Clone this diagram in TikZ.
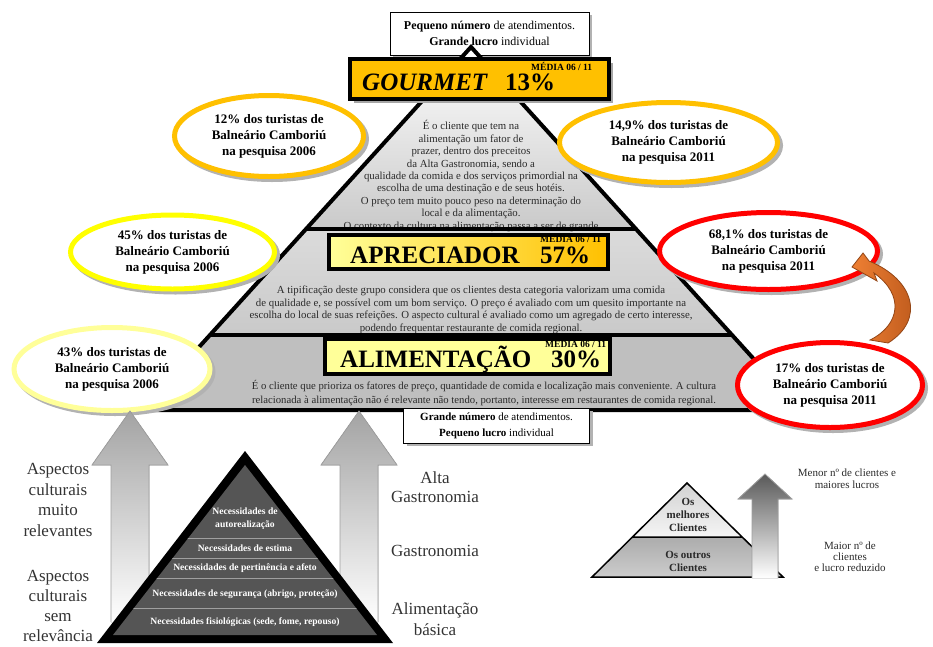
\documentclass[tikz,border=0pt]{standalone}
\usepackage{fontspec}
\setmainfont{Liberation Serif}
\usepackage{tikz}
\usetikzlibrary{shapes.geometric}
\usetikzlibrary{shadows}
\usetikzlibrary{calc}

\definecolor{gold}{HTML}{FFC000}
\definecolor{paleyellow}{HTML}{FFFF99}
\definecolor{pureyellow}{HTML}{FFFF00}
\definecolor{purered}{HTML}{FF0000}
\definecolor{arroworange}{HTML}{EE7F33}
\definecolor{arrowbrown}{HTML}{B8561A}
\definecolor{txtgray}{HTML}{2A2A2A}
\definecolor{maslowgray}{HTML}{555555}

\tikzset{
  fsize/.style 2 args={font=\fontsize{#1}{#2}\selectfont},
  bsize/.style 2 args={font=\fontsize{#1}{#2}\selectfont\bfseries},
  survey/.style={ellipse, draw=#1, line width=5pt, fill=white, inner sep=1pt,
    align=center, font=\fontsize{13}{16}\selectfont\bfseries,
    drop shadow={shadow xshift=3pt, shadow yshift=-3pt, fill=gray!60, draw=gray!60, line width=5pt, opacity=1}},
  levelbox/.style={draw=black, line width=4pt, inner sep=0pt},
  bigword/.style={font=\fontsize{25}{25}\selectfont\bfseries, inner sep=0pt, text height=17pt, text depth=0pt},
  media/.style={font=\fontsize{9.5}{9.5}\selectfont\bfseries, inner sep=0pt, text height=6.5pt, text depth=0pt},
  infobox/.style={draw=black, line width=0.8pt, fill=white, align=center, inner sep=0pt,
    drop shadow={shadow xshift=3pt, shadow yshift=-3pt, fill=gray!60, opacity=1}},
  sectiontxt/.style={align=center, text=txtgray, inner sep=0pt},
  bigarrow/.style={draw=gray!75, line width=0.8pt},
  maslowtxt/.style={text=white, align=center, font=\fontsize{9.6}{13}\selectfont\bfseries, inner sep=0pt},
  sidelabel/.style={align=center, text=black!80, font=\fontsize{17}{20.5}\selectfont, inner sep=0pt},
  smalltxt/.style={align=center, text=txtgray, inner sep=0pt}
}

\begin{document}
\begin{tikzpicture}[x=1pt, y=-1pt]
\useasboundingbox (0,0) rectangle (933,646);

%info on top
\node[infobox, fsize={12}{16}, minimum width=199pt, minimum height=43pt] (topinfo) at (489.5,33.5)
  {\textbf{Pequeno número} de atendimentos.\\\textbf{Grande lucro} individual};

%big pyramid
\coordinate (apex) at (471,47);
\coordinate (tl) at (306,229);
\coordinate (tr) at (636,229);
\coordinate (ml) at (210,335);
\coordinate (mr) at (732,335);
\coordinate (bl) at (142,410);
\coordinate (br) at (800,410);

\fill[top color=white, bottom color=gray!42] (apex) -- (tr) -- (tl) -- cycle;
\fill[top color=gray!28, bottom color=gray!42] (tl) -- (tr) -- (mr) -- (ml) -- cycle;
\fill[gray!50] (ml) -- (mr) -- (br) -- (bl) -- cycle;

\node[sectiontxt, fsize={10.8}{12.4}] (gourmettext) at (471,176)
  {É o cliente que tem na\\alimentação um fator de\\prazer, dentro dos preceitos\\da Alta Gastronomia, sendo a\\qualidade da comida e dos serviços primordial na\\escolha de uma destinação e de seus hotéis.\\O preço tem muito pouco peso na determinação do\\local e da alimentação.\\O contexto da cultura na alimentação passa a ser de grande};
\node[sectiontxt, fsize={10.8}{12.6}] (apreciadortext) at (471,310)
  {A tipificação deste grupo considera que os clientes desta categoria valorizam uma comida\\de qualidade e, se possível com um bom serviço. O preço é avaliado com um quesito importante na\\escolha do local de suas refeições. O aspecto cultural é avaliado como um agregado de certo interesse,\\podendo frequentar restaurante de comida regional.};
\node[sectiontxt, fsize={10.7}{13.5}] (alimentacaotext) at (484,393)
  {É o cliente que prioriza os fatores de preço, quantidade de comida e localização mais conveniente. A cultura\\relacionada à alimentação não é relevante não tendo, portanto, interesse em restaurantes de comida regional.};

\draw[line width=4pt] (apex) -- (br) -- (bl) -- cycle;
\draw[line width=4.5pt] (tl) -- (tr) (ml) -- (mr);

%levels
\node[levelbox, fill=gold, minimum width=259pt, minimum height=40pt,
  drop shadow={shadow xshift=4pt, shadow yshift=-4pt, fill=gray!70, opacity=1}] (gourmet) at (479.5,79) {};
\node[bigword, anchor=base west] (gourmetname) at (362,90) {\textit{GOURMET}};
\node[bigword, anchor=base west] (gourmetpct) at (505,90) {13\%};
\node[media, anchor=base west] (gourmetmedia) at (531,70) {MÉDIA 06 / 11};

\node[levelbox, left color=paleyellow, right color=gold, minimum width=279pt, minimum height=34pt] (apreciador) at (468.5,252) {};
\node[bigword, anchor=base west] (apreciadorname) at (350,263) {APRECIADOR};
\node[bigword, anchor=base west] (apreciadorpct) at (540,263) {57\%};
\node[media, anchor=base west] (apreciadormedia) at (540,242) {MÉDIA 06 / 11};

\node[levelbox, fill=paleyellow, minimum width=285pt, minimum height=35pt] (alimentacao) at (467.5,356.5) {};
\node[bigword, anchor=base west] (alimentacaoname) at (340,367) {ALIMENTAÇÃO};
\node[bigword, anchor=base west] (alimentacaopct) at (551,367) {30\%};
\node[media, anchor=base west] (alimentacaomedia) at (545,347) {MÉDIA 06 / 11};

\node[infobox, fsize={11}{16}, minimum width=186pt, minimum height=35pt] (bottominfo) at (496.5,425.5)
  {\textbf{Grande número} de atendimentos.\\\textbf{Pequeno lucro} individual};

%surveys
\node[survey=gold, minimum width=189pt, minimum height=81pt] (gourmet06) at (269,136)
  {12\% dos turistas de\\Balneário Camboriú\\na pesquisa 2006};
\node[survey=gold, minimum width=218pt, minimum height=80pt] (gourmet11) at (668.5,142.5)
  {14,9\% dos turistas de\\Balneário Camboriú\\na pesquisa 2011};
\node[survey=pureyellow, minimum width=204pt, minimum height=74pt] (apreciador06) at (172.5,252)
  {45\% dos turistas de\\Balneário Camboriú\\na pesquisa 2006};
\node[survey=paleyellow, minimum width=196pt, minimum height=83pt] (alimentacao06) at (112,369)
  {43\% dos turistas de\\Balneário Camboriú\\na pesquisa 2006};
\node[survey=purered, minimum width=218pt, minimum height=77pt] (apreciador11) at (768.5,251)
  {68,1\% dos turistas de\\Balneário Camboriú\\na pesquisa 2011};
\node[survey=purered, minimum width=185pt, minimum height=85pt] (alimentacao11) at (830,385)
  {17\% dos turistas de\\Balneário Camboriú\\na pesquisa 2011};

%curved arrow
\draw[left color=arroworange, right color=arrowbrown, draw=arrowbrown!80!black, line width=0.8pt]
  (870,340) .. controls (900,325) and (905,295) .. (874,273) -- (877,281) -- (852,267)
  -- (863,253) -- (869,261) .. controls (915,280) and (925,320) .. (888,343) -- cycle;

%up arrows
\foreach \ax in {130,359} {
  \fill[top color=gray!72, middle color=gray!58, bottom color=white]
    (\ax,411) -- (\ax+38,465) -- (\ax+19,465) -- (\ax+19,622) -- (\ax-19,622) -- (\ax-19,465) -- (\ax-38,465) -- cycle;
  \draw[bigarrow] (\ax-19,622) -- (\ax-19,465) -- (\ax-38,465) -- (\ax,411) -- (\ax+38,465) -- (\ax+19,465) -- (\ax+19,622);
}

%maslow
\fill[black] (245,451) -- (393,643) -- (97,643) -- cycle;
\fill[maslowgray] (245,465) -- (377,635) -- (113,635) -- cycle;
\begin{scope}
  \clip (245,465) -- (377,635) -- (113,635) -- cycle;
  \foreach \ly in {538,558,578,608} {
    \draw[gray!75, line width=1pt] (100,\ly) -- +(290,0);
  }
\end{scope}
\node[maslowtxt] (autorealizacao) at (245,518.5) {Necessidades de\\autorealização};
\node[maslowtxt] (estima) at (245,548) {Necessidades de estima};
\node[maslowtxt] (pertinencia) at (245,568) {Necessidades de pertinência e afeto};
\node[maslowtxt] (seguranca) at (245,594) {Necessidades de segurança (abrigo, proteção)};
\node[maslowtxt] (fisiologicas) at (245,622) {Necessidades fisiológicas (sede, fome, repouso)};

\node[sidelabel] (culturalhigh) at (58,500) {Aspectos\\culturais\\muito\\relevantes};
\node[sidelabel, fsize={17}{20}] (culturallow) at (58,606) {Aspectos\\culturais\\sem\\relevância};
\node[sidelabel, fsize={17}{18.5}] (altagastro) at (435,487) {Alta\\Gastronomia};
\node[sidelabel] (gastro) at (435,551) {Gastronomia};
\node[sidelabel] (alimbasica) at (435,619) {Alimentação\\básica};

%clients
\coordinate (sapex) at (687,483);
\coordinate (sdl) at (632,537);
\coordinate (sdr) at (742,537);
\coordinate (sbl) at (592,577);
\coordinate (sbr) at (783,577);
\fill[top color=gray!35, bottom color=gray!8] (sapex) -- (sdr) -- (sdl) -- cycle;
\fill[top color=gray!65, bottom color=gray!40] (sdl) -- (sdr) -- (sbr) -- (sbl) -- cycle;
\draw[line width=1.5pt] (sapex) -- (sbr) -- (sbl) -- cycle (sdl) -- (sdr);
\node[smalltxt, bsize={11}{13}] (best) at (688,515) {Os\\melhores\\Clientes};
\node[smalltxt, bsize={11}{13}] (others) at (688,561) {Os outros\\Clientes};

\fill[top color=black!65, bottom color=white]
  (765,474) -- (792,499) -- (778,499) -- (778,578) -- (752,578) -- (752,499) -- (738,499) -- cycle;
\draw[bigarrow] (752,578) -- (752,499) -- (738,499) -- (765,474) -- (792,499) -- (778,499) -- (778,578);

\node[smalltxt, fsize={11}{12}] (fewclients) at (847,479) {Menor nº de clientes e\\maiores lucros};
\node[smalltxt, fsize={11}{11}] (manyclients) at (850,557) {Maior nº de\\clientes\\e lucro reduzido};
\end{tikzpicture}
\end{document}
